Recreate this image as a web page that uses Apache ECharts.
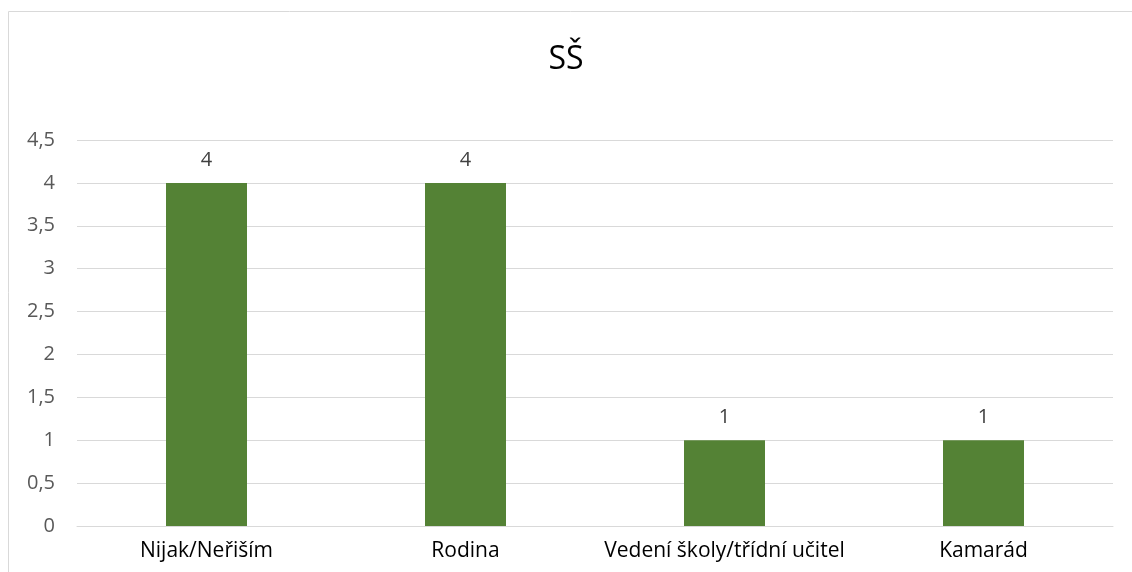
<!DOCTYPE html>
<html>
<head>
<meta charset="utf-8">
<script src="https://cdn.jsdelivr.net/npm/echarts@6/dist/echarts.min.js"></script>
<style>
  html, body { margin: 0; padding: 0; background: #fff; }
  #chart { width: 1132px; height: 572px; }
</style>
</head>
<body>
<div id="chart"></div>
<script>
const categories = ["Nijak/Neřiším", "Rodina", "Vedení školy/třídní učitel", "Kamarád"];
const values = [4, 4, 1, 1];
const chartTitle = "SŠ";

const font = "'Open Sans', 'Noto Sans', sans-serif";
const myChart = echarts.init(document.getElementById("chart"));

const option = {
  animation: false,
  textStyle: { fontFamily: font },
  title: {
    text: chartTitle,
    left: "center",
    top: 39,
    textStyle: { fontFamily: font, fontSize: 32, fontWeight: "normal", color: "#000" },
  },
  graphic: [
    {
      type: "rect",
      shape: { x: 8.5, y: 11.5, width: 1200, height: 600 },
      style: { fill: "none", stroke: "#d9d9d9", lineWidth: 1 },
      silent: true,
    },
  ],
  grid: { left: 77, right: 19, top: 140, bottom: 46 },
  xAxis: {
    type: "category",
    data: categories,
    axisLine: { lineStyle: { color: "#d9d9d9", width: 1 } },
    axisTick: { show: false },
    axisLabel: { color: "#000", fontSize: 21, margin: 15, interval: 0, fontFamily: font },
  },
  yAxis: {
    type: "value",
    min: 0,
    max: 4.5,
    interval: 0.5,
    axisLine: { show: false },
    axisTick: { show: false },
    splitLine: { lineStyle: { color: "#d9d9d9", width: 1 } },
    axisLabel: {
      color: "#595959",
      fontSize: 20,
      margin: 22,
      fontFamily: font,
      formatter: (v) => String(v).replace(".", ","),
    },
  },
  series: [
    {
      type: "bar",
      data: values,
      barWidth: 81,
      itemStyle: { color: "#548235" },
      label: {
        show: true,
        position: "top",
        distance: 13,
        color: "#404040",
        fontSize: 20,
        fontFamily: font,
      },
    },
  ],
};

myChart.setOption(option);
</script>
</body>
</html>
